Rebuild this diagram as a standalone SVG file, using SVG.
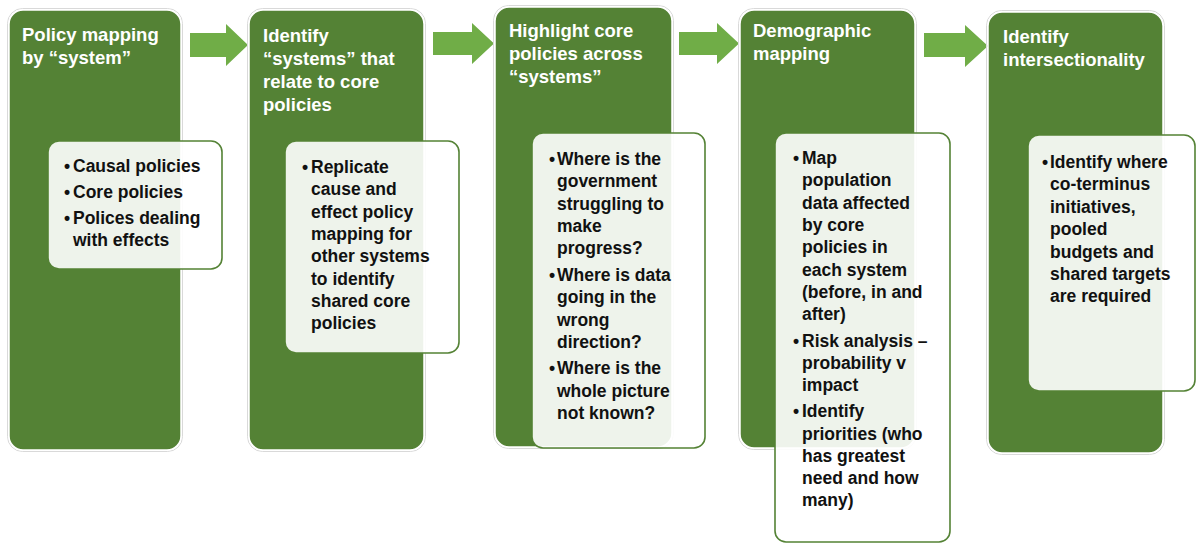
<svg xmlns="http://www.w3.org/2000/svg" width="1196" height="544" viewBox="0 0 1196 544">
<style>
.box{fill:#548235;stroke:#ffffff;stroke-width:1.5}
.frame{fill:none;stroke:#d9d9d9;stroke-width:1}
.card{fill:#ffffff;fill-opacity:0.9;stroke:#548235;stroke-width:1.6}
.hd{font-family:"Liberation Sans",Arial,sans-serif;font-weight:bold;font-size:18.5px;fill:#ffffff}
.bd{font-family:"Liberation Sans",Arial,sans-serif;font-weight:bold;font-size:17.5px;fill:#111111}
.arrow{fill:#70AD47}
</style>
<rect width="1196" height="544" fill="#ffffff"/>
<g id="connectors">
<polygon class="arrow" points="190,33 226,33 226,24 248,45 226,66 226,57 190,57"/>
<polygon class="arrow" points="433,32 472,32 472,23 494,43.5 472,64 472,55 433,55"/>
<polygon class="arrow" points="679,32 717,32 717,23 739,43.5 717,64 717,55 679,55"/>
<polygon class="arrow" points="924,33 965,33 965,25 988,46 965,67 965,57 924,57"/>
</g>
<g id="step1">
<rect class="frame" x="7.5" y="8.5" width="175" height="443" rx="15"/>
<rect class="box" x="9" y="10" width="172" height="440" rx="14"/>
<text class="hd"><tspan x="22" y="41">Policy mapping</tspan><tspan x="22" y="64">by “system”</tspan></text>
<rect class="card" x="48" y="141" width="174" height="128" rx="11"/>
<text class="bd"><tspan x="64" y="172">•</tspan><tspan x="73" y="172">Causal policies</tspan><tspan x="64" y="198">•</tspan><tspan x="73" y="198">Core policies</tspan><tspan x="64" y="224">•</tspan><tspan x="73" y="224">Polices dealing</tspan><tspan x="73" y="246">with effects</tspan></text>
</g>
<g id="step2">
<rect class="frame" x="247.5" y="8.5" width="178" height="443" rx="15"/>
<rect class="box" x="249" y="10" width="175" height="440" rx="14"/>
<text class="hd"><tspan x="263" y="42">Identify</tspan><tspan x="263" y="65">“systems” that</tspan><tspan x="263" y="88">relate to core</tspan><tspan x="263" y="111">policies</tspan></text>
<rect class="card" x="285" y="141" width="174" height="212" rx="11"/>
<text class="bd"><tspan x="302" y="173">•</tspan><tspan x="311" y="173">Replicate</tspan><tspan x="311" y="195">cause and</tspan><tspan x="311" y="217.5">effect policy</tspan><tspan x="311" y="240">mapping for</tspan><tspan x="311" y="262">other systems</tspan><tspan x="311" y="284.5">to identify</tspan><tspan x="311" y="307">shared core</tspan><tspan x="311" y="329">policies</tspan></text>
</g>
<g id="step3">
<rect class="frame" x="493.5" y="5.5" width="180" height="443" rx="15"/>
<rect class="box" x="495" y="7" width="177" height="440" rx="14"/>
<text class="hd"><tspan x="509" y="37">Highlight core</tspan><tspan x="509" y="60">policies across</tspan><tspan x="509" y="83">“systems”</tspan></text>
<rect class="card" x="532" y="133" width="173" height="315" rx="11"/>
<text class="bd"><tspan x="549" y="165">•</tspan><tspan x="557" y="165">Where is the</tspan><tspan x="557" y="187">government</tspan><tspan x="557" y="209.5">struggling to</tspan><tspan x="557" y="232">make</tspan><tspan x="557" y="254">progress?</tspan><tspan x="549" y="281">•</tspan><tspan x="557" y="281">Where is data</tspan><tspan x="557" y="303">going in the</tspan><tspan x="557" y="325.5">wrong</tspan><tspan x="557" y="348">direction?</tspan><tspan x="549" y="374">•</tspan><tspan x="557" y="374">Where is the</tspan><tspan x="557" y="396.5">whole picture</tspan><tspan x="557" y="418.5">not known?</tspan></text>
</g>
<g id="step4">
<rect class="frame" x="738.5" y="8.5" width="178" height="441" rx="15"/>
<rect class="box" x="740" y="10" width="175" height="438" rx="14"/>
<text class="hd"><tspan x="753" y="37">Demographic</tspan><tspan x="753" y="60">mapping</tspan></text>
<rect class="card" x="775" y="133" width="175" height="409" rx="11"/>
<text class="bd"><tspan x="793" y="164">•</tspan><tspan x="802" y="164">Map</tspan><tspan x="802" y="186">population</tspan><tspan x="802" y="209">data affected</tspan><tspan x="802" y="231">by core</tspan><tspan x="802" y="253">policies in</tspan><tspan x="802" y="276">each system</tspan><tspan x="802" y="298">(before, in and</tspan><tspan x="802" y="320">after)</tspan><tspan x="793" y="347">•</tspan><tspan x="802" y="347">Risk analysis –</tspan><tspan x="802" y="369">probability v</tspan><tspan x="802" y="391">impact</tspan><tspan x="793" y="417">•</tspan><tspan x="802" y="417">Identify</tspan><tspan x="802" y="440">priorities (who</tspan><tspan x="802" y="462">has greatest</tspan><tspan x="802" y="484">need and how</tspan><tspan x="802" y="506">many)</tspan></text>
</g>
<g id="step5">
<rect class="frame" x="986.5" y="10.5" width="178" height="444" rx="15"/>
<rect class="box" x="988" y="12" width="175" height="441" rx="14"/>
<text class="hd"><tspan x="1003" y="43">Identify</tspan><tspan x="1003" y="66">intersectionality</tspan></text>
<rect class="card" x="1028" y="135" width="167" height="256" rx="11"/>
<text class="bd"><tspan x="1042" y="168">•</tspan><tspan x="1050" y="168">Identify where</tspan><tspan x="1050" y="190">co-terminus</tspan><tspan x="1050" y="213">initiatives,</tspan><tspan x="1050" y="235">pooled</tspan><tspan x="1050" y="258">budgets and</tspan><tspan x="1050" y="280">shared targets</tspan><tspan x="1050" y="302">are required</tspan></text>
</g>
</svg>
